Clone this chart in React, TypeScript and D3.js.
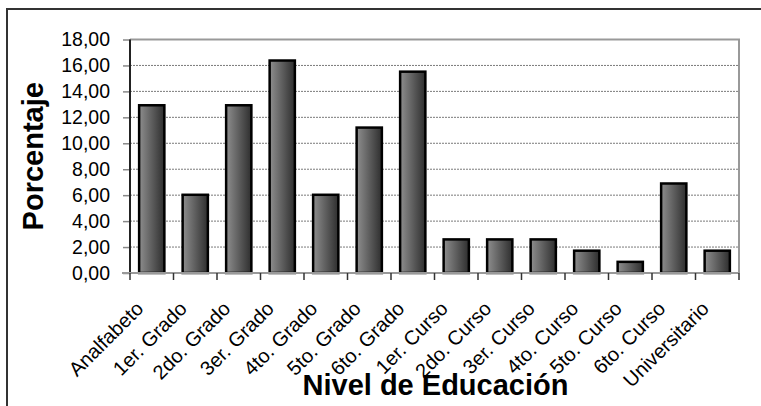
import React, { useRef, useEffect } from 'react';
import * as d3 from 'd3';

const categories = [
  'Analfabeto', '1er. Grado', '2do. Grado', '3er. Grado', '4to. Grado', '5to. Grado', '6to. Grado',
  '1er. Curso', '2do. Curso', '3er. Curso', '4to. Curso', '5to. Curso', '6to. Curso', 'Universitario',
];
const porcentajes = [12.93, 6.03, 12.93, 16.38, 6.03, 11.21, 15.52, 2.59, 2.59, 2.59, 1.72, 0.86, 6.9, 1.72];
const yTicks = [0, 2, 4, 6, 8, 10, 12, 14, 16, 18];

const W = 761;
const H = 406;

export default function App() {
  const svgRef = useRef<SVGSVGElement>(null);

  useEffect(() => {
    if (!svgRef.current) return;
    const svg = d3.select(svgRef.current);
    svg.selectAll('*').remove();

    const plot = { left: 130, top: 39.5, right: 739, bottom: 273 };
    const font = 'Arial, "Liberation Sans", sans-serif';

    const defs = svg.append('defs');
    const grad = defs.append('linearGradient').attr('id', 'barGrad')
      .attr('x1', '0%').attr('x2', '100%').attr('y1', '0%').attr('y2', '0%');
    grad.append('stop').attr('offset', '0%').attr('stop-color', '#8e8e8e');
    grad.append('stop').attr('offset', '100%').attr('stop-color', '#2e2e2e');

    // outer frame (only top and left visible)
    svg.append('path')
      .attr('d', `M7,${H} L7,9 L${W},9`)
      .attr('fill', 'none').attr('stroke', '#333').attr('stroke-width', 2);

    const x = d3.scaleBand<string>().domain(categories)
      .range([plot.left, plot.right]).paddingInner(0.42).paddingOuter(0.21);
    const xb = d3.scaleBand<string>().domain(categories).range([plot.left, plot.right]);
    const y = d3.scaleLinear().domain([0, 18]).range([plot.bottom, plot.top]);

    // grid
    svg.append('g').selectAll('line').data(yTicks.filter(t => t > 0 && t < 18)).join('line')
      .attr('x1', plot.left).attr('x2', plot.right)
      .attr('y1', d => y(d)).attr('y2', d => y(d))
      .attr('stroke', '#7a7a7a').attr('stroke-width', 1).attr('stroke-dasharray', '2,1');

    // plot frame top and right
    svg.append('path')
      .attr('d', `M${plot.left},${plot.top} L${plot.right},${plot.top} L${plot.right},${plot.bottom}`)
      .attr('fill', 'none').attr('stroke', '#999').attr('stroke-width', 2);

    // bars
    svg.append('g').selectAll('rect').data(porcentajes).join('rect')
      .attr('x', (_, i) => x(categories[i])!)
      .attr('width', x.bandwidth())
      .attr('y', d => y(d))
      .attr('height', d => plot.bottom - y(d))
      .attr('fill', 'url(#barGrad)')
      .attr('stroke', '#000').attr('stroke-width', 2.5);

    // y axis
    const yAxis = svg.append('g').attr('transform', `translate(${plot.left},0)`)
      .call(d3.axisLeft(y).tickValues(yTicks).tickSize(7).tickPadding(13)
        .tickFormat(d => (d as number).toFixed(2).replace('.', ',')));
    yAxis.select('.domain').remove();
    yAxis.selectAll('.tick line').attr('stroke', '#888').attr('stroke-width', 1.5);
    yAxis.selectAll('.tick text').attr('font-family', font).attr('font-size', 19.5).attr('fill', '#000');
    svg.append('line').attr('x1', plot.left).attr('x2', plot.left)
      .attr('y1', plot.top).attr('y2', plot.bottom + 1)
      .attr('stroke', '#222').attr('stroke-width', 2);

    // x axis
    svg.append('line').attr('x1', plot.left - 8).attr('x2', plot.right)
      .attr('y1', plot.bottom).attr('y2', plot.bottom)
      .attr('stroke', '#999').attr('stroke-width', 2);
    const edges = categories.map(c => xb(c)!).concat([plot.right]);
    svg.append('g').selectAll('line').data(edges).join('line')
      .attr('x1', d => d).attr('x2', d => d)
      .attr('y1', plot.bottom).attr('y2', plot.bottom + 7)
      .attr('stroke', '#333').attr('stroke-width', 1.5);

    svg.append('g').selectAll('text').data(categories).join('text')
      .attr('transform', d => `translate(${xb(d)! + xb.bandwidth() / 2 - 12},${plot.bottom + 32}) rotate(-45)`)
      .attr('text-anchor', 'end')
      .attr('dy', '0.35em')
      .attr('font-family', font).attr('font-size', 20)
      .attr('fill', '#000')
      .text(d => d);

    // titles
    svg.append('text')
      .attr('x', (plot.left + plot.right) / 2 + 1).attr('y', 395)
      .attr('text-anchor', 'middle')
      .attr('font-family', font).attr('font-size', 29).attr('font-weight', 'bold')
      .text('Nivel de Educación');

    svg.append('text')
      .attr('transform', `translate(43,${(plot.top + plot.bottom) / 2}) rotate(-90)`)
      .attr('text-anchor', 'middle')
      .attr('font-family', font).attr('font-size', 29).attr('font-weight', 'bold')
      .text('Porcentaje');
  }, []);

  return (
    <svg ref={svgRef} width={W} height={H}
      style={{ position: 'absolute', left: 0, top: 0, background: '#fff' }} />
  );
}
